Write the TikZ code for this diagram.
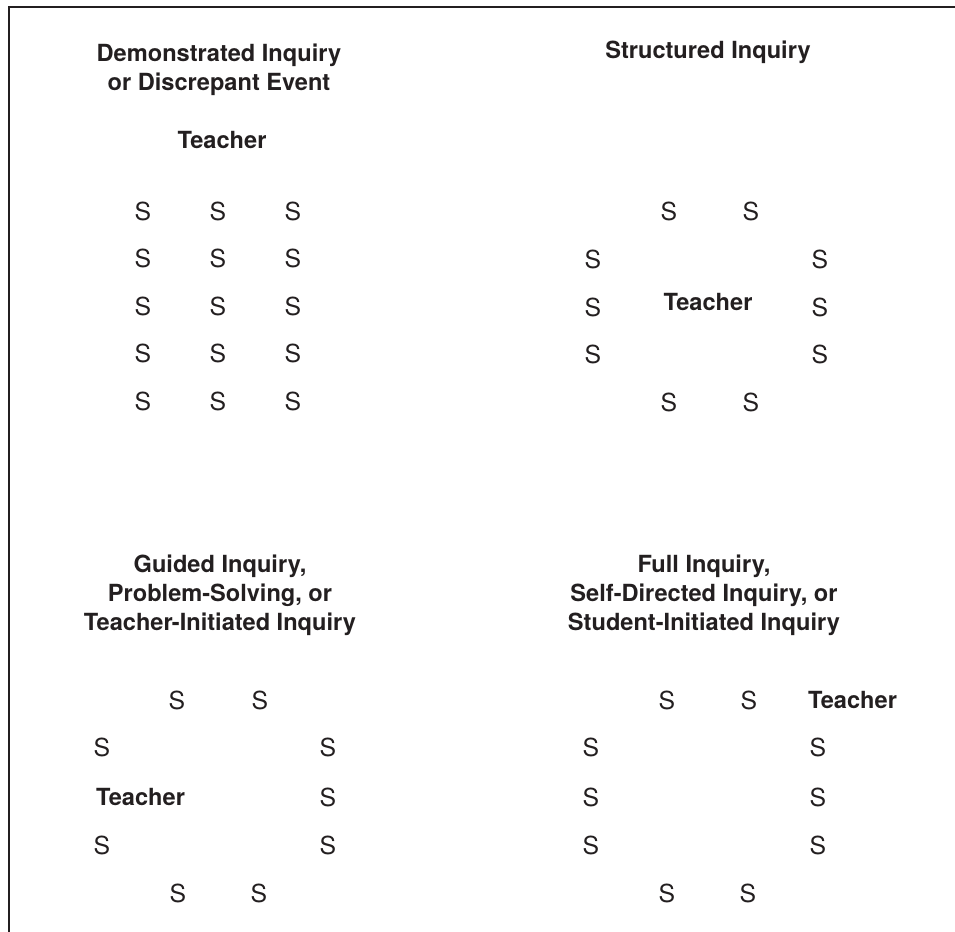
\documentclass[tikz,border=0pt]{standalone}
\usepackage{amsmath, amssymb}
\usepackage[dvipsnames]{xcolor}
\usepackage{fontspec}
\setmainfont{TeX Gyre Heros}
\usepackage{tikz}

\definecolor{inkgray}{RGB}{35,31,32}

\begin{document}
\begin{tikzpicture}[x=0.5pt,y=0.5pt,yscale=-1,xscale=1,
  stu/.style={inner sep=0.75pt, text=inkgray, font=\fontsize{12.4}{14.5}\selectfont},
  tchr/.style={inner sep=0.75pt, text=inkgray, font=\fontsize{11.8}{14.5}\selectfont\bfseries},
  ttl/.style={inner sep=0.75pt, text=inkgray, align=center, font=\fontsize{11.8}{14.5}\selectfont\bfseries}]
\useasboundingbox (0,0) rectangle (955,932); %set diagram left start at 0, and has height of 932

%Frame
\draw [color=inkgray, line width=1pt]  (955,7) -- (9,7) -- (9,932) ;

% Title Nodes
\draw (219,70) node [ttl] (hdDemo) {Demonstrated Inquiry\\or Discrepant Event};
\draw (708,52) node [ttl] (hdStruct) {Structured Inquiry};
\draw (220,595) node [ttl] (hdGuided) {Guided Inquiry,\\Problem-Solving, or\\Teacher-Initiated Inquiry};
\draw (704,595) node [ttl] (hdFull) {Full Inquiry,\\Self-Directed Inquiry, or\\Student-Initiated Inquiry};

% Teacher Nodes
\draw (222,140) node [tchr] (tDemo) {Teacher};
\draw (708,302) node [tchr] (tStruct) {Teacher};
\draw (140.5,797) node [tchr] (tGuided) {Teacher};
\draw (852.5,700) node [tchr] (tFull) {Teacher};

% Demonstrated Inquiry: rows of students
\draw (143,211) node [stu] (sDa1) {S};
\draw (218,211) node [stu] (sDa2) {S};
\draw (293,211) node [stu] (sDa3) {S};
\draw (143,258.5) node [stu] (sDb1) {S};
\draw (218,258.5) node [stu] (sDb2) {S};
\draw (293,258.5) node [stu] (sDb3) {S};
\draw (143,306) node [stu] (sDc1) {S};
\draw (218,306) node [stu] (sDc2) {S};
\draw (293,306) node [stu] (sDc3) {S};
\draw (143,353.5) node [stu] (sDd1) {S};
\draw (218,353.5) node [stu] (sDd2) {S};
\draw (293,353.5) node [stu] (sDd3) {S};
\draw (143,401) node [stu] (sDe1) {S};
\draw (218,401) node [stu] (sDe2) {S};
\draw (293,401) node [stu] (sDe3) {S};

% Structured Inquiry: students round the teacher
\draw (669,211) node [stu] (sSa1) {S};
\draw (751,211) node [stu] (sSa2) {S};
\draw (593,259) node [stu] (sSb1) {S};
\draw (820,259) node [stu] (sSb2) {S};
\draw (593,307) node [stu] (sSc1) {S};
\draw (820,307) node [stu] (sSc2) {S};
\draw (593,354) node [stu] (sSd1) {S};
\draw (820,354) node [stu] (sSd2) {S};
\draw (669,402) node [stu] (sSe1) {S};
\draw (751,402) node [stu] (sSe2) {S};

% Guided Inquiry: teacher at the side
\draw (177,700) node [stu] (sGa1) {S};
\draw (260,700) node [stu] (sGa2) {S};
\draw (102,747) node [stu] (sGb1) {S};
\draw (328,747) node [stu] (sGb2) {S};
\draw (328,797) node [stu] (sGc2) {S};
\draw (102,845) node [stu] (sGd1) {S};
\draw (328,845) node [stu] (sGd2) {S};
\draw (178,893) node [stu] (sGe1) {S};
\draw (259,893) node [stu] (sGe2) {S};

% Full Inquiry: teacher outside the circle
\draw (667,700) node [stu] (sFa1) {S};
\draw (749,700) node [stu] (sFa2) {S};
\draw (591,747) node [stu] (sFb1) {S};
\draw (818,747) node [stu] (sFb2) {S};
\draw (591,797) node [stu] (sFc1) {S};
\draw (818,797) node [stu] (sFc2) {S};
\draw (591,845) node [stu] (sFd1) {S};
\draw (818,845) node [stu] (sFd2) {S};
\draw (667,893) node [stu] (sFe1) {S};
\draw (748,893) node [stu] (sFe2) {S};

\end{tikzpicture}
\end{document}
